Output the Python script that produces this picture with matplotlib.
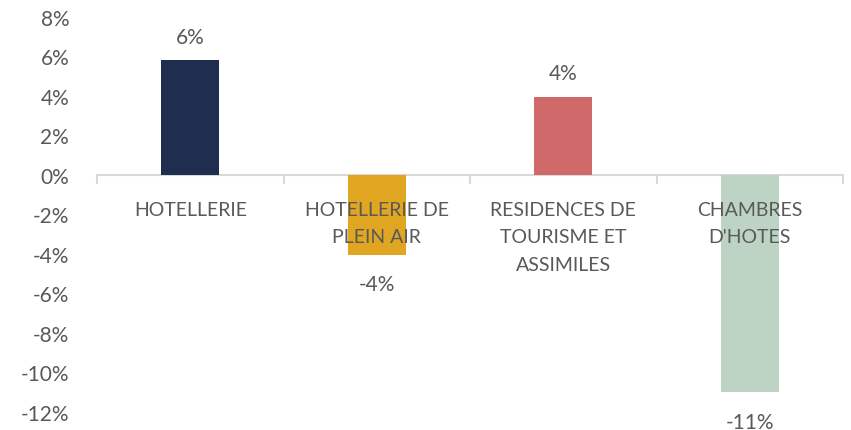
import matplotlib
matplotlib.use("Agg")
import matplotlib.pyplot as plt
from matplotlib.ticker import FuncFormatter

categories = ["HOTELLERIE", "HOTELLERIE DE\nPLEIN AIR", "RESIDENCES DE\nTOURISME ET\nASSIMILES", "CHAMBRES\nD'HOTES"]
values = [5.8, -4.05, 3.95, -11.0]
value_labels = ["6%", "-4%", "4%", "-11%"]
colors = ["#1F2D4F", "#E0A622", "#D06A6A", "#BDD4C4"]
yticks = list(range(-12, 9, 2))

plt.rcParams['font.family'] = ['Lato', 'DejaVu Sans']
text_color = "#595959"

fig = plt.figure(figsize=(8.51, 4.31), dpi=100)
ax = fig.add_axes([97/851, 18/431, (843-97)/851, (413-18)/431])

x = list(range(len(categories)))
ax.bar(x, values, width=0.31, color=colors, zorder=2)
ax.set_xlim(-0.5, len(categories) - 0.5)
ax.set_ylim(-12, 8)
ax.set_yticks(yticks)
ax.yaxis.set_major_formatter(FuncFormatter(lambda v, p: f"{int(v)}%"))
ax.tick_params(axis='y', length=0, pad=20, labelsize=15, labelcolor=text_color)
ax.set_xticks([])
for s in ax.spines.values():
    s.set_visible(False)

# zero line and category separators
ax.axhline(0, color="#D9D9D9", lw=1.5, zorder=1)
for b in [i - 0.5 for i in range(len(categories) + 1)]:
    ax.plot([b, b], [0, -0.4], color="#D9D9D9", lw=1.5, zorder=1, clip_on=False)

for i, cat in enumerate(categories):
    ax.text(i, -1.3, cat, ha='center', va='top', fontsize=14, color=text_color,
            linespacing=1.75, zorder=3)

for i, (v, lab) in enumerate(zip(values, value_labels)):
    if v >= 0:
        ax.annotate(lab, (i, v), xytext=(0, 10), textcoords='offset points',
                    ha='center', va='bottom', fontsize=15, color=text_color)
    else:
        ax.annotate(lab, (i, v), xytext=(0, -14), textcoords='offset points',
                    ha='center', va='top', fontsize=15, color=text_color,
                    annotation_clip=False)

fig.savefig("out.png", dpi=100)
